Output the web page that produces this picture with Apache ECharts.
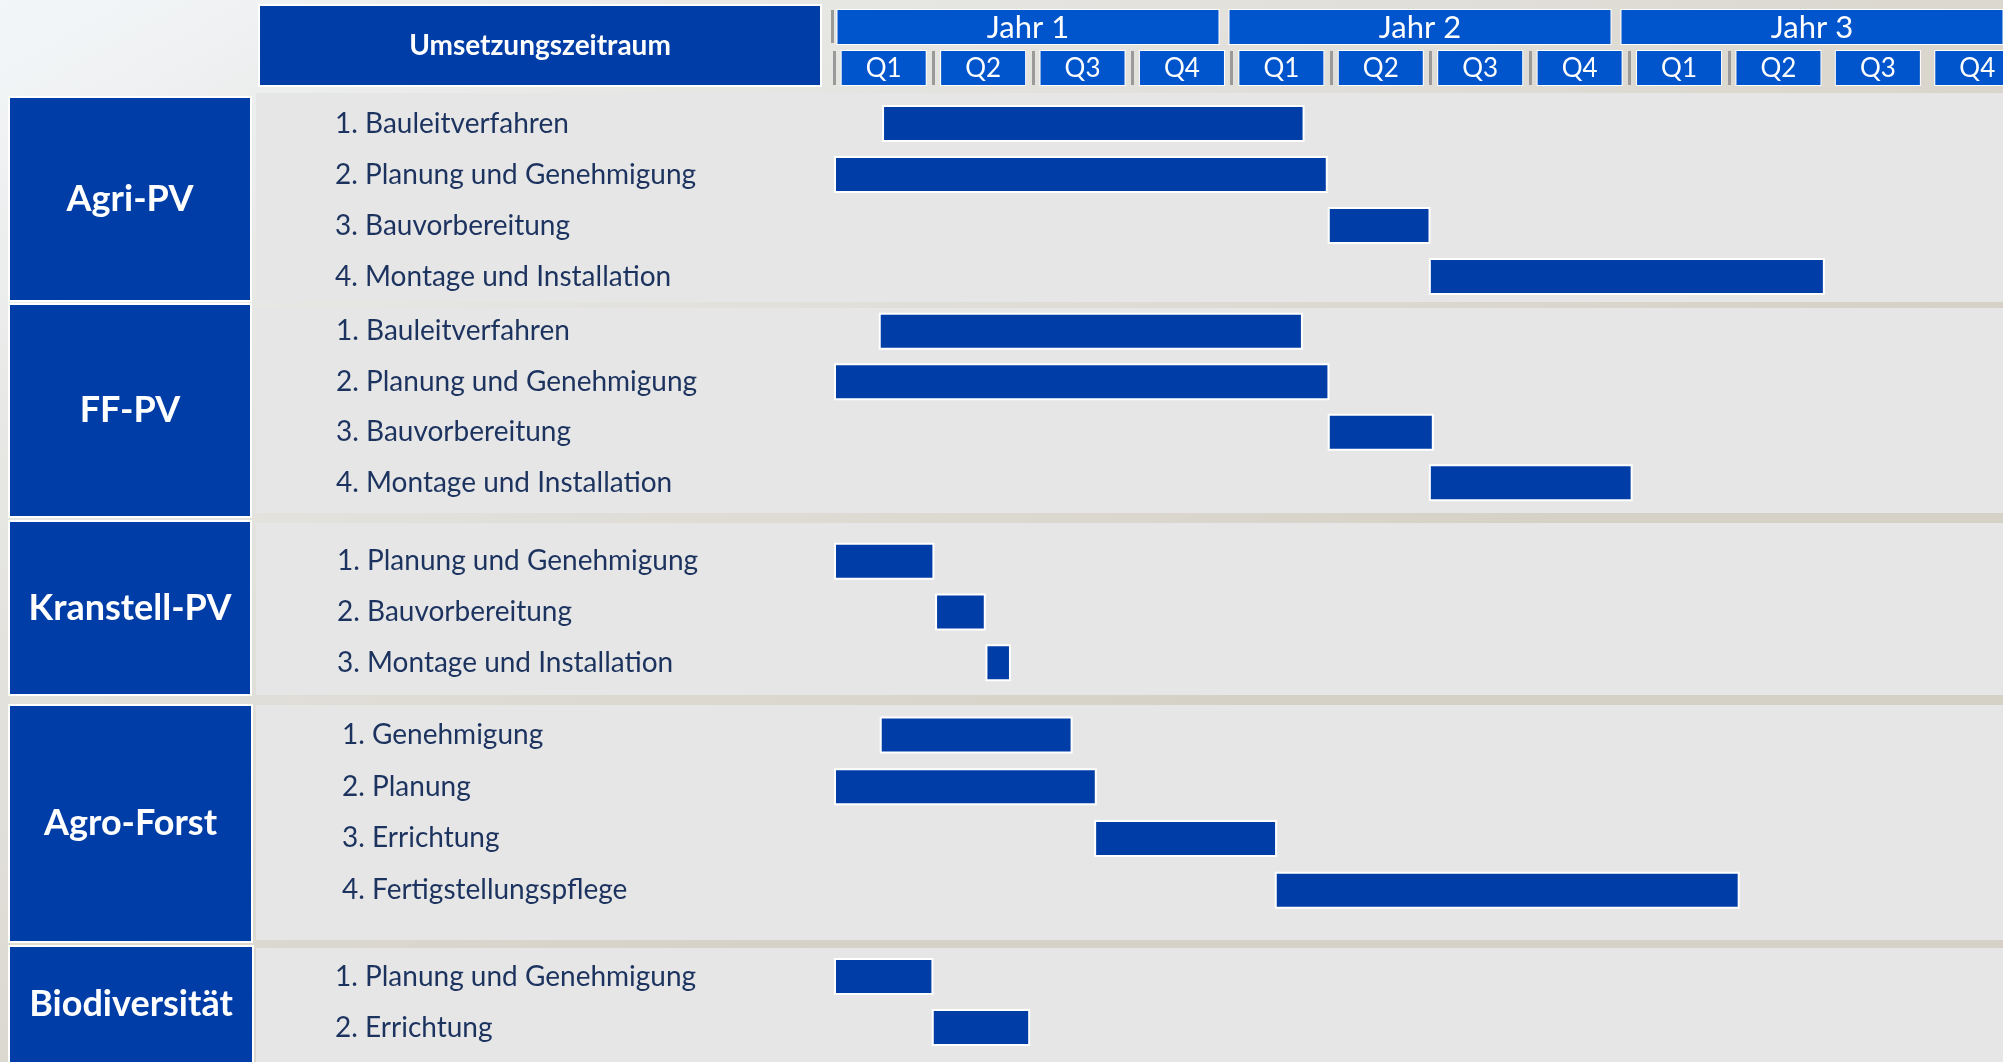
<!DOCTYPE html>
<html>
<head>
<meta charset="utf-8">
<script src="https://cdn.jsdelivr.net/npm/echarts@6/dist/echarts.min.js"></script>
<style>html,body{margin:0;padding:0;background:#fff;} #main{width:2003px;height:1062px;}</style>
</head>
<body>
<div id="main"></div>
<script>
// Zeitachse in Monaten (0 = Beginn Jahr 1)
var quarters = ['Q1', 'Q2', 'Q3', 'Q4', 'Q1', 'Q2', 'Q3', 'Q4', 'Q1', 'Q2', 'Q3', 'Q4'];
var years = ['Jahr 1', 'Jahr 2', 'Jahr 3'];
var groups = ['Agri-PV', 'FF-PV', 'Kranstell-PV', 'Agro-Forst', 'Biodiversität'];

var agriTasks = ['1. Bauleitverfahren', '2. Planung und Genehmigung', '3. Bauvorbereitung', '4. Montage und Installation'];
var agriStart = [1.45, 0, 14.9, 17.95];
var agriEnd = [14.2, 14.9, 18.0, 29.9];

var ffTasks = ['1. Bauleitverfahren', '2. Planung und Genehmigung', '3. Bauvorbereitung', '4. Montage und Installation'];
var ffStart = [1.35, 0, 14.9, 17.95];
var ffEnd = [14.15, 14.95, 18.1, 24.1];

var kranTasks = ['1. Planung und Genehmigung', '2. Bauvorbereitung', '3. Montage und Installation'];
var kranStart = [0, 3.05, 4.57];
var kranEnd = [3.03, 4.58, 5.34];

var agroTasks = ['1. Genehmigung', '2. Planung', '3. Errichtung', '4. Fertigstellungspflege'];
var agroStart = [1.38, 0, 7.85, 13.3];
var agroEnd = [7.2, 7.93, 13.37, 27.33];

var bioTasks = ['1. Planung und Genehmigung', '2. Errichtung'];
var bioStart = [0, 2.95];
var bioEnd = [3.0, 5.92];

var taskLists = [agriTasks, ffTasks, kranTasks, agroTasks, bioTasks];
var startLists = [agriStart, ffStart, kranStart, agroStart, bioStart];
var endLists = [agriEnd, ffEnd, kranEnd, agroEnd, bioEnd];

// Layout (Pixel)
var plotLeft = 834, plotWidth = 1193;
var layout = [
    { top: 98, height: 204, box: [97, 301], panel: [93, 302], labelX: 335, boxW: 242 },
    { top: 306, height: 202, box: [304, 517], panel: [308, 513], labelX: 336, boxW: 242 },
    { top: 536, height: 152, box: [521, 695], panel: [523, 695], labelX: 337, boxW: 242 },
    { top: 709, height: 207, box: [705, 942], panel: [705, 940], labelX: 342, boxW: 243 },
    { top: 951, height: 102, box: [946, 1070], panel: [948, 1070], labelX: 335, boxW: 244 }
];

var blue = '#003da6', headBlue = '#0054cc', textBlue = '#1c335f';
var font = 'Lato';

var myChart = echarts.init(document.getElementById('main'));

var grids = [], xAxes = [], yAxes = [], series = [], graphics = [];

layout.forEach(function (l, i) {
    grids.push({ left: plotLeft, width: plotWidth, top: l.top, height: l.height, outerBoundsMode: 'none' });
    xAxes.push({ gridIndex: i, type: 'value', min: 0, max: 36, show: false });
    yAxes.push({
        gridIndex: i,
        type: 'category',
        inverse: true,
        data: taskLists[i],
        axisLine: { show: false },
        axisTick: { show: false },
        axisLabel: {
            align: 'left',
            margin: plotLeft - l.labelX,
            fontFamily: font,
            fontSize: 28,
            color: textBlue
        }
    });
    series.push({
        type: 'bar',
        xAxisIndex: i,
        yAxisIndex: i,
        stack: 'g' + i,
        silent: true,
        barWidth: 37,
        itemStyle: { color: 'transparent' },
        data: startLists[i]
    });
    series.push({
        type: 'bar',
        xAxisIndex: i,
        yAxisIndex: i,
        stack: 'g' + i,
        barWidth: 37,
        itemStyle: { color: blue, borderColor: '#ffffff', borderWidth: 2 },
        data: endLists[i].map(function (e, k) { return +(e - startLists[i][k]).toFixed(2); })
    });

    // Hintergrundfelder und Gruppenkästen
    graphics.push({
        type: 'rect', z: -10,
        shape: { x: 256, y: l.panel[0], width: 1760, height: l.panel[1] - l.panel[0] },
        style: { fill: '#e6e6e6' }
    });
    graphics.push({
        type: 'rect', z: -5,
        shape: { x: 9, y: l.box[0], width: l.boxW, height: l.box[1] - l.box[0] },
        style: { fill: blue, stroke: '#ffffff', lineWidth: 2 }
    });
    graphics.push({
        type: 'text', z: 5,
        x: 9 + l.boxW / 2,
        y: (l.box[0] + Math.min(l.box[1], 1062)) / 2,
        style: {
            text: groups[i],
            fill: '#ffffff',
            font: 'bold 36px ' + font,
            align: 'center', verticalAlign: 'middle',
            textAlign: 'center', textVerticalAlign: 'middle'
        }
    });
});

// Kopfzeile: Jahre und Quartale
var yearGrid = grids.length;
grids.push({ left: 832, width: 1176, top: 0, height: 10, outerBoundsMode: 'none' });
xAxes.push({
    gridIndex: yearGrid, type: 'category', position: 'bottom', data: years,
    axisLine: { show: false },
    axisTick: { show: true, length: 33, interval: function (idx) { return idx === 0; }, lineStyle: { color: '#9a9a9a', width: 3 } },
    axisLabel: {
        interval: 0, margin: 0, color: '#ffffff', fontFamily: font, fontSize: 31,
        backgroundColor: headBlue, borderColor: '#ffffff', borderWidth: 1,
        width: 381, height: 34, lineHeight: 36, align: 'center'
    }
});
yAxes.push({ gridIndex: yearGrid, type: 'value', show: false });

var qGrid = grids.length;
grids.push({ left: plotLeft, width: plotWidth, top: 0, height: 51, outerBoundsMode: 'none' });
xAxes.push({
    gridIndex: qGrid, type: 'category', position: 'bottom', data: quarters,
    axisLine: { show: false },
    axisTick: { show: true, length: 34, interval: function (idx) { return idx < 10; }, lineStyle: { color: '#9a9a9a', width: 3 } },
    axisLabel: {
        interval: 0, margin: 0, color: '#ffffff', fontFamily: font, fontSize: 26,
        backgroundColor: headBlue, borderColor: '#ffffff', borderWidth: 1,
        width: 84, height: 34, lineHeight: 36, align: 'center'
    }
});
yAxes.push({ gridIndex: qGrid, type: 'value', show: false });

graphics.push({
    type: 'rect', z: -5,
    shape: { x: 259, y: 5, width: 562, height: 81 },
    style: { fill: blue, stroke: '#ffffff', lineWidth: 2 }
});
graphics.push({
    type: 'text', z: 5, x: 540, y: 46,
    style: {
        text: 'Umsetzungszeitraum', fill: '#ffffff', font: 'bold 28px ' + font,
        align: 'center', verticalAlign: 'middle', textAlign: 'center', textVerticalAlign: 'middle'
    }
});

var option = {
    animation: false,
    backgroundColor: {
        type: 'linear', x: 0, y: 0, x2: 0.3, y2: 1,
        colorStops: [
            { offset: 0, color: '#f3f6f9' },
            { offset: 0.35, color: '#e6e6e3' },
            { offset: 1, color: '#d6d1c6' }
        ]
    },
    grid: grids,
    xAxis: xAxes,
    yAxis: yAxes,
    graphic: { elements: graphics },
    series: series
};

myChart.setOption(option);
</script>
</body>
</html>
